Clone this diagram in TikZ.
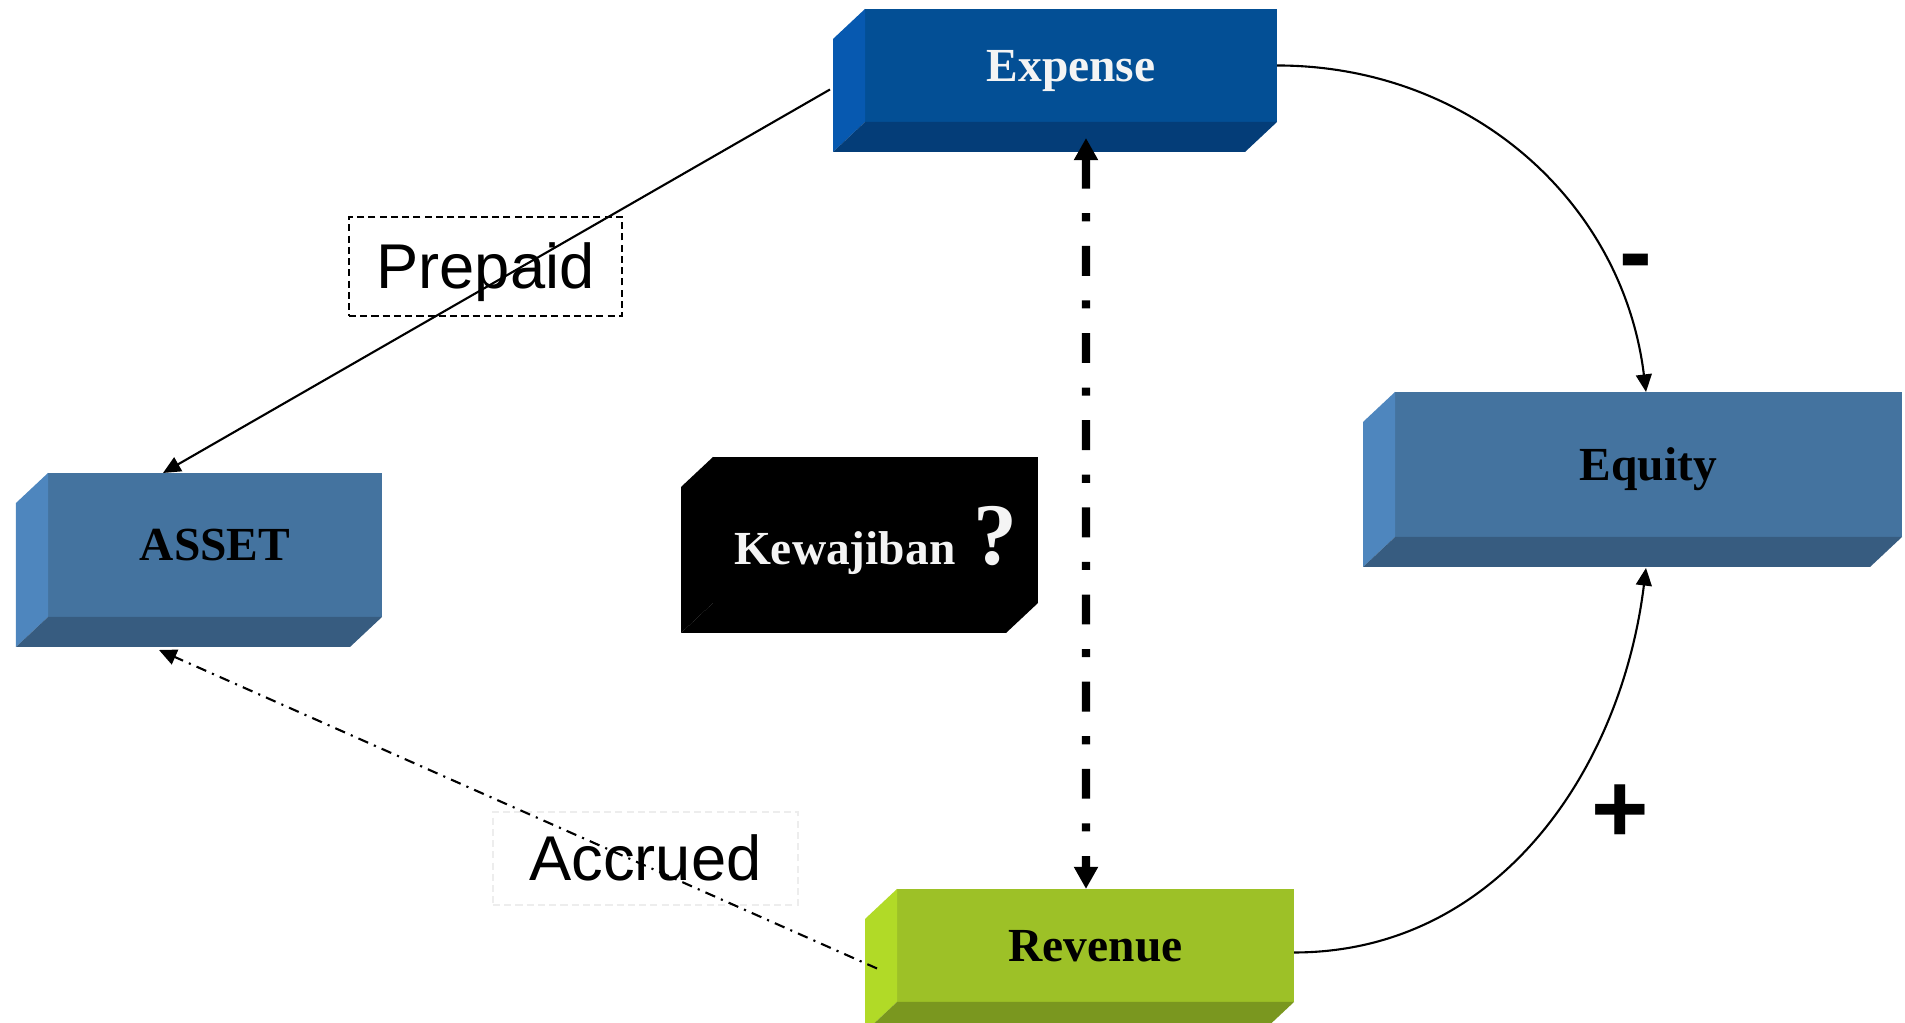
\documentclass[tikz,border=0pt]{standalone}
\usepackage{fontspec}
\setmainfont{Liberation Serif}
\newfontfamily\arialfont{Liberation Sans}
\usetikzlibrary{arrows.meta}

\definecolor{expfront}{HTML}{034F95}
\definecolor{expside}{HTML}{0759B0}
\definecolor{expbottom}{HTML}{043D78}
\definecolor{eqfront}{HTML}{44739F}
\definecolor{eqside}{HTML}{4E86BE}
\definecolor{eqbottom}{HTML}{375C80}
\definecolor{revfront}{HTML}{9DC127}
\definecolor{revside}{HTML}{B1DA27}
\definecolor{revbottom}{HTML}{7A971F}
\definecolor{offwhite}{HTML}{F4F4F4}

\newcommand{\boxsides}[3]{
\fill[#2] (#1.north west) -- ++(-0.32,-0.3) -- ([shift={(-0.32,-0.3)}]#1.south west) -- (#1.south west) -- cycle;
\fill[#3] (#1.south west) -- ([shift={(-0.32,-0.3)}]#1.south west) -- ([shift={(-0.32,-0.3)}]#1.south east) -- (#1.south east) -- cycle;
}

\begin{document}
\begin{tikzpicture}[
cube/.style={rectangle, inner sep=0pt, outer sep=0pt, text height=0.315cm, text depth=0pt, font=\fontsize{13.5}{16}\selectfont\bfseries},
tag/.style={rectangle, inner sep=0pt, line width=0.6pt, dash pattern=on 2pt off 1.2pt, text height=0.45cm, text depth=0pt, font=\arialfont\fontsize{18}{20}\selectfont},
sign/.style={inner sep=0pt, font=\arialfont\bfseries\fontsize{28}{30}\selectfont},
link/.style={line width=0.6pt, -{Triangle[length=5pt,width=4.5pt]}}]
\useasboundingbox (0,0) rectangle (19.05,10.23);

\node[cube, fill=expfront, text=offwhite, minimum width=4.12cm, minimum height=1.13cm] (Expense) at (10.71,9.575) {Expense};
\boxsides{Expense}{expside}{expbottom}

\node[cube, fill=eqfront, minimum width=3.34cm, minimum height=1.44cm] (ASSET) at (2.15,4.78) {ASSET};
\boxsides{ASSET}{eqside}{eqbottom}

\node[cube, fill=eqfront, minimum width=5.07cm, minimum height=1.45cm] (Equity) at (16.485,5.585) {Equity};
\boxsides{Equity}{eqside}{eqbottom}

\node[cube, fill=revfront, minimum width=3.97cm, minimum height=1.13cm] (Revenue) at (10.955,0.775) {Revenue};
\boxsides{Revenue}{revside}{revbottom}

\node[cube, fill=black, text=offwhite, text height=0.7cm, minimum width=3.25cm, minimum height=1.46cm] (Kewajiban) at (8.755,4.93) {Kewajiban\hspace{5pt}{\fontsize{25}{25}\selectfont ?}};
\boxsides{Kewajiban}{black}{black}

\node[tag, draw=black, minimum width=2.73cm, minimum height=0.99cm] (Prepaid) at (4.855,7.565) {Prepaid};
\node[tag, draw=black!7, minimum width=3.05cm, minimum height=0.93cm] (Accrued) at (6.455,1.645) {Accrued};

\node[sign] (minus) at (16.36,7.53) {-};
\node[sign] (plus) at (16.20,2.09) {+};

\draw[link] ([shift={(-0.35,-0.24)}]Expense.west) -- ([xshift=-0.52cm]ASSET.north);
\draw[link, dash pattern=on 3pt off 1.8pt on 0.6pt off 1.8pt] ([shift={(-0.2,-0.23)}]Revenue.west) -- ([shift={(-0.56,-0.33)}]ASSET.south);
\draw[link] (Expense.east) to[out=0, in=97] ([xshift=-0.25mm]Equity.north);
\draw[link] ([yshift=-0.7mm]Revenue.east) to[out=0, in=-97] ([shift={(-0.025,-0.31)}]Equity.south);
\draw[line width=2.3pt, dash pattern=on 8.5pt off 7pt on 2.3pt off 7pt, {Triangle[length=6.3pt,width=6.5pt]}-{Triangle[length=6.3pt,width=6.5pt]}] ([shift={(0.15,-0.16)}]Expense.south) -- ([xshift=-0.95mm]Revenue.north);
\end{tikzpicture}
\end{document}
